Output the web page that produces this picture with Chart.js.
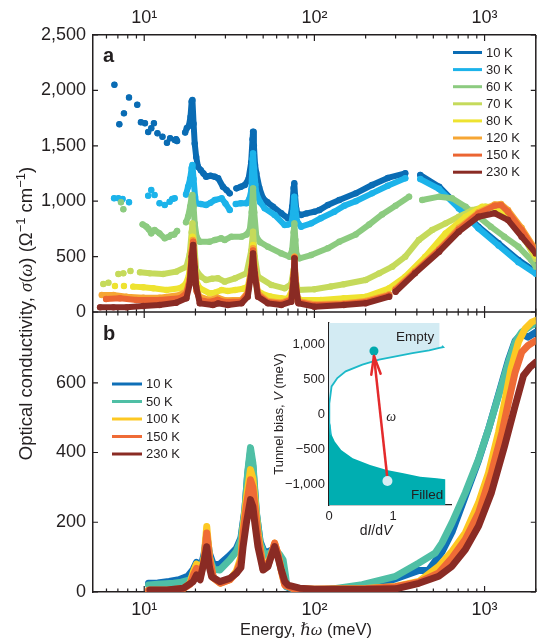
<!DOCTYPE html>
<html>
<head>
<meta charset="utf-8">
<script src="https://cdn.jsdelivr.net/npm/chart.js@4.4.0/dist/chart.umd.min.js"></script>
<style>
  body { margin: 0; background: #fff; }
  #wrap { position: relative; width: 539px; height: 638px; }
  #main { position: absolute; left: 0; top: 0; }
  #inset { position: absolute; left: 262px; top: 318px; }
</style>
</head>
<body>
<div id="wrap">
  <canvas id="main" width="539" height="638"></canvas>
  <canvas id="inset" width="200" height="228"></canvas>
</div>
<script>
// ---- data ----
const xTickVals = [10, 100, 1000];
const xTickText = ['10¹', '10²', '10³'];
const yaTicks = [0, 500, 1000, 1500, 2000, 2500];
const ybTicks = [0, 200, 400, 600];

// panel a (null = gap in the measured data)
const labelsA = ['10 K', '30 K', '60 K', '70 K', '80 K', '120 K', '150 K', '230 K'];
const eA10 = [6.68,null,7.14,null,7.6,null,8.14,null,9.1,null,9.56,null,10.1,null,10.55,null,11.0,null,11.4,null,11.96,null,12.8,null,13.6,null,14.2,null,15.1,15.4,15.6,null,
  17.4,17.8,18.3,18.7,19.0,19.2,19.5,19.8,20.2,20.7,21.5,22.3,23.1,24.5,26,27.2,29.0,30.5,31.8,null,
  34.8,37,39,41,42.5,43.3,43.6,44.1,44.8,45.6,47.5,49.9,53,57.1,63.9,69.9,72.5,74,75.5,76.2,77,78.2,79.2,83.6,90,100,107,120,140,175,218,270,342,null,
  419,541,706,920,1208,1581,2000];
const sA10 = [2051,null,1694,null,1793,null,1937,null,1871,null,1712,null,1703,null,1624,null,1658,null,1703,null,1613,null,1582,null,1528,null,1568,null,1552,1560,1543,null,
  1620,1660,1680,1760,1900,1913,1700,1520,1400,1311,1280,1250,1221,1230,1221,1207,1131,1100,1071,null,
  1116,1130,1146,1200,1350,1560,1627,1500,1330,1252,1120,1026,990,951,891,846,870,950,1120,1162,1050,930,891,876,890,905,920,966,1011,1071,1146,1210,1252,null,
  1237,1131,950,770,620,469,364];
const eA30 = [6.65,null,7.05,null,7.46,null,8.14,null,10.55,null,11.0,null,11.5,null,12.3,null,13.2,null,14.1,null,14.6,15.1,null,
  17.6,18.1,18.6,19.0,19.2,19.5,19.9,20.2,21.5,23.1,24.5,26,28.5,30,31.8,null,
  34.5,37,39.9,41.5,42.6,43.3,43.6,44.2,45.0,45.6,48,51,58.4,66.9,70,73.2,75,76.2,77.3,79,83.6,95.8,109,131,150,175,218,270,342,null,
  419,541,706,920,1208,1581,2000];
const sA30 = [1026,null,1026,null,1020,null,990,null,1050,null,1101,null,1056,null,981,null,966,null,996,null,1020,1026,null,
  1060,1131,1200,1300,1327,1200,1040,981,975,966,985,1011,1026,980,921,null,
  975,981,981,1020,1101,1380,1432,1300,1150,1071,990,936,876,785,790,800,900,1041,930,820,770,800,846,905,960,1000,1071,1140,1207,null,
  1200,1110,935,755,600,450,345];
const eA60 = [7.3,null,7.54,null,9.78,10.3,10.6,11.0,11.5,12.3,13.2,14.0,14.4,15.0,15.6,null,
  17.6,18.1,18.6,19.0,19.2,19.5,19.8,20.3,21.2,24.2,26,28.3,29.7,32.5,37.3,40,41.7,42.8,43.6,44.3,45.6,48,53.3,63.9,71.5,74,75.5,76.3,77.3,78.5,81.8,95.8,120,140,175,210,250,300,360,null,
  430,541,644,774,920,1088,1305,1581,1883,2000];
const sA60 = [990,null,927,null,791,770,750,710,740,710,665,680,695,700,731,null,
  810,860,950,1040,1056,950,800,680,634,634,650,665,650,680,680,700,740,900,1116,900,680,630,589,529,499,560,720,800,650,520,484,514,575,634,700,790,880,960,1040,null,
  1011,1041,1026,950,860,770,680,589,469,409];
const eA70 = [5.75,null,6.16,null,7.05,null,7.54,null,8.3,null,9.44,10.8,12.9,15.4,
  17.7,18.5,19.0,19.2,19.6,20.2,21.5,23.1,25,27.1,29.7,34.2,39.9,42.5,43.6,44.6,46.6,55.9,66.9,73,75.5,76.4,77.5,79.8,100,125,149,200,240,287,342,411,492,590,706,846,1012,1208,1444,1731,2000];
const sA70 = [253,null,265,null,343,null,349,null,370,null,358,349,343,364,
  409,520,720,800,650,379,320,289,300,304,274,304,349,550,725,500,319,244,214,250,380,424,300,199,205,230,250,289,349,409,499,650,740,800,860,920,950,920,800,650,480];
const eA80 = [6.73,null,7.6,null,8.62,9.87,11.3,13.5,16.2,17.5,18.3,18.8,19.2,19.6,20.2,21.2,24.2,26,28.5,31,34.2,38,40.6,42.5,43.6,44.6,46,48.7,55,63.9,70,74,76.3,77.5,79,83.6,109,149,200,275,342,448,590,774,967,1147,1444,1731,2000];
const sA80 = [235,null,235,null,229,223,214,199,214,250,330,500,680,500,280,214,169,175,199,190,199,210,229,380,605,380,200,169,140,124,120,200,379,250,130,108,108,124,138,214,319,499,710,860,950,950,815,650,510];
const eA120 = [5.63,6.59,7.88,9.87,12.3,16.2,17.7,18.5,19.0,19.3,19.7,20.3,21.2,24,27,30,37.3,40.6,42.8,43.6,44.5,46.6,53,64,73,75.5,76.4,77.5,80,100,149,200,275,null,300,390,541,706,920,1147,1250,1374,1650,2000];
const sA120 = [153,153,138,129,129,153,190,300,550,650,450,200,138,110,130,105,110,180,420,575,400,170,100,85,120,350,500,300,100,70,80,100,160,null,210,370,570,760,900,970,975,920,760,560];
const eA150 = [5.97,7.2,9.0,12.3,16.2,17.7,18.5,19.0,19.4,19.8,20.3,21.2,24,27,30,37.3,40.6,42.8,43.6,44.5,46.6,53,64,73,75.5,76.4,77.5,80,100,149,200,275,null,300,390,541,706,920,1147,1250,1374,1650,2000];
const sA150 = [117,124,108,108,124,170,290,530,634,420,190,110,90,110,90,95,165,400,555,380,155,90,75,110,330,490,280,90,60,70,90,150,null,200,360,560,745,890,960,965,905,740,545];
const eA230 = [5.5,6.59,7.88,9.87,12.3,15.4,17.7,18.5,19.0,19.4,19.8,20.2,21.2,25.3,27.2,31,37.3,40.6,42.8,43.6,44.5,46.6,53.3,63.9,73.2,75.5,76.4,77.5,80.6,100,149,200,275,null,300,390,541,706,920,1147,1374,1650,2000];
const sA230 = [42,42,42,54,63,84,124,250,500,605,400,229,78,63,78,63,78,138,380,529,350,138,78,63,93,300,484,250,78,48,63,78,138,null,183,349,544,725,860,891,830,680,529];

// panel b
const labelsB = ['10 K', '50 K', '100 K', '150 K', '230 K'];
const eB10 = [10.6,12,14,16,18,19.4,20.3,21.3,22.5,23.3,24.2,25.5,27.8,31.8,34.8,37,39,40.5,42.1,43.5,45.6,48,51,53.3,56,58.4,61,64,66,68.4,75,100,150,200,300,411,468,562,644,771,922,1055,1208,1381,1512,1653,1800,2000];
const sB10 = [25,26,30,35,45,65,85,60,110,165,110,78,80,105,125,155,235,335,400,360,225,145,112,115,120,128,110,92,60,15,8,6,10,15,38,62,62,115,172,275,378,467,566,665,720,740,731,745];
const eB50 = [10.6,12,14.9,16.5,18.6,19.5,20.3,21.3,22.5,23.3,24.2,25.5,27.8,31.8,34.8,37,39,40.5,42.1,43.5,45.6,48,51,53.3,56,58.4,62,65.5,67.5,69,80,122,191,300,411,513,562,644,771,922,1055,1208,1381,1512,1653,1892,2000];
const sB50 = [20,22,25,28,35,55,80,55,100,155,100,65,63,92,116,150,230,340,414,370,230,140,105,110,115,120,110,92,50,15,8,7,21,45,83,112,141,199,285,381,467,563,659,717,745,765,769];
const eB100 = [10.6,14,17,18.6,19.5,20.3,21.3,22.5,23.3,24.2,25.5,28,31.8,34.8,37,38.1,39.9,42.1,43.5,44.6,46.6,50,53.3,56,58.4,61,64,67,75,100,200,300,411,538,644,771,922,1055,1208,1312,1430,1581,1731,1892,2000];
const sB100 = [5,5,10,25,60,80,45,100,188,100,40,25,35,60,100,180,270,351,325,270,170,70,80,110,140,110,60,20,10,8,10,16,30,74,117,170,256,342,458,544,640,717,755,774,779];
const eB150 = [10.6,14,17,18.6,19.5,20.3,21.3,22.5,23.3,24.2,25.5,28,31.8,34.8,37,38.1,39.9,42.1,43.5,44.6,46.6,50,53.3,56,58.4,61,64,67,75,100,200,300,411,538,644,771,922,1097,1267,1381,1512,1653,1800,2000];
const sB150 = [5,6,10,22,50,68,42,90,169,95,40,25,35,55,90,165,250,322,300,250,160,65,75,110,140,110,60,20,10,8,9,15,28,55,98,151,227,342,458,544,630,688,707,721];
const eB230 = [10.8,13.6,17,19.4,20.3,21.3,22.3,23.3,24.2,24.9,27.8,31.8,34.8,37,38.1,39.9,42.1,43.5,44.6,46.6,49.9,53.3,56,58.4,61,63.9,67,69.9,81.8,100,200,300,411,538,644,771,922,1097,1312,1512,1693,1852,2000];
const sB230 = [6,6,11,30,49,35,80,130,70,44,30,39,54,70,130,200,265,245,200,130,63,73,105,130,100,63,30,20,11,8,8,9,25,45,74,122,189,285,419,534,621,645,659];

// inset (dI/dV against tunnel bias)
const insTicksX = [0, 1];
const insTicksY = [-1000, -500, 0, 500, 1000];
const insEmptyX = [0.0, 0.02, 0.04, 0.13, 0.26, 0.52, 0.78, 1.04, 1.30, 1.56, 1.72, 1.72];
const insEmptyV = [150, 251, 394, 514, 609, 704, 776, 823, 871, 909, 943, 1300];
const insFillX = [0.02, 0.03, 0.09, 0.19, 0.37, 0.64, 0.90, 1.16, 1.42, 1.68, 1.81, 1.81];
const insFillV = [-150, -274, -394, -513, -632, -727, -799, -847, -895, -918, -932, -1300];
const insCurveX = [0.03, 0.01, 0.0, 0.01, 0.02, 0.04, 0.13, 0.26, 0.52, 0.78, 1.04, 1.30, 1.56, 1.72, 1.78, 1.76];
const insCurveV = [-300, -150, 0, 150, 251, 394, 514, 609, 704, 776, 823, 871, 909, 943, 955, 975];
const insArrowX = [0.91, 0.70];
const insArrowV = [-925, 830];
const insEmptyDotX = [0.70], insEmptyDotV = [900];
const insFilledDotX = [0.91], insFilledDotV = [-956];

// ---- styles ----
const FONT = "'Liberation Sans', Arial, Helvetica, sans-serif";
const SERIF = "'Liberation Serif', 'DejaVu Serif', serif";
const INK = '#231f20';
const colorsA = ['#0a6cb4', '#1cb3ea', '#8ccb80', '#c5da5b', '#eee330', '#f6a634', '#eb6532', '#8a2b24'];
const colorsB = ['#0f6fb7', '#4fbfa5', '#fdc823', '#ef6b36', '#8a2b24'];

Chart.defaults.font.family = FONT;
Chart.defaults.color = INK;

function pts(E, S) {
  return E.map((e, i) => ({ x: e, y: S[i] }));
}

function fontFor(st, size) {
  if (st === 's') return Math.round(size * 0.68) + 'px ' + FONT;
  if (st === 'i') return 'italic ' + size + 'px ' + SERIF;
  if (st === 'si') return 'italic ' + size + 'px ' + FONT;
  if (st === 'b') return 'bold ' + size + 'px ' + FONT;
  return size + 'px ' + FONT;
}

// draws mixed-style text centred on (x, baseline y)
function drawRich(ctx, parts, x, y, size, angle, align) {
  ctx.save();
  ctx.translate(x, y);
  ctx.rotate(angle || 0);
  ctx.fillStyle = INK;
  ctx.textBaseline = 'alphabetic';
  ctx.textAlign = 'left';
  const widths = parts.map(p => { ctx.font = fontFor(p[1], size); return ctx.measureText(p[0]).width; });
  const total = widths.reduce((a, b) => a + b, 0);
  let cx = align === 'right' ? -total : (align === 'left' ? 0 : -total / 2);
  parts.forEach((p, i) => {
    ctx.font = fontFor(p[1], size);
    ctx.fillText(p[0], cx, p[1] === 's' ? -size * 0.38 : 0);
    cx += widths[i];
  });
  ctx.restore();
}

// ---- main chart ----
const seriesA = [[eA10, sA10], [eA30, sA30], [eA60, sA60], [eA70, sA70], [eA80, sA80], [eA120, sA120], [eA150, sA150], [eA230, sA230]];
const seriesB = [[eB10, sB10], [eB50, sB50], [eB100, sB100], [eB150, sB150], [eB230, sB230]];

const datasets = [];
seriesA.forEach((s, i) => {
  datasets.push({
    label: labelsA[i], data: pts(s[0], s[1]), xAxisID: 'x', yAxisID: 'ya',
    borderColor: colorsA[i], backgroundColor: colorsA[i], borderWidth: 6,
    pointRadius: 3.2, pointBorderWidth: 0, pointHoverRadius: 0,
    borderCapStyle: 'round', borderJoinStyle: 'round', spanGaps: false,
    order: seriesA.length - i
  });
});
seriesB.forEach((s, i) => {
  datasets.push({
    label: labelsB[i], data: pts(s[0], s[1]), xAxisID: 'x', yAxisID: 'yb',
    borderColor: colorsB[i], backgroundColor: colorsB[i], borderWidth: 7,
    pointRadius: 0, pointHoverRadius: 0,
    borderCapStyle: 'round', borderJoinStyle: 'round', spanGaps: false,
    order: seriesB.length - i
  });
});

function logAxis(pos, h, pad) {
  return {
    type: 'logarithmic', position: pos, min: 5, max: 2000,
    afterBuildTicks: s => { s.ticks = xTickVals.map(v => ({ value: v })); },
    afterFit: s => { s.height = h; },
    grid: { display: false, drawTicks: false },
    border: { display: true, color: INK, width: 1.5 },
    ticks: {
      autoSkip: false, maxRotation: 0, padding: pad, font: { size: 18 }, color: INK,
      callback: v => xTickText[xTickVals.indexOf(v)]
    }
  };
}

function linAxis(max, ticks, weight) {
  return {
    type: 'linear', position: 'left', stack: 'panels', stackWeight: weight, min: 0, max: max,
    afterBuildTicks: s => { s.ticks = ticks.map(v => ({ value: v })); },
    afterFit: s => { s.width = 93; },
    grid: { display: false, drawTicks: false },
    border: { display: true, color: INK, width: 1.5 },
    ticks: { padding: 7, font: { size: 18 }, color: INK, callback: v => v.toLocaleString('en-US') }
  };
}

const minorX = [];
[1, 10, 100, 1000].forEach(d => { for (let k = 2; k <= 9; k++) { const v = d * k; if (v > 5 && v <= 2000) minorX.push(v); } });

const framePlugin = {
  id: 'frame',
  beforeDatasetsDraw(chart) {
    const { ctx, chartArea: ca, scales } = chart;
    const x = scales.x, ya = scales.ya, yb = scales.yb;
    const mid = ya.bottom;
    ctx.save();
    ctx.strokeStyle = INK;
    ctx.lineWidth = 1.5;
    ctx.beginPath();
    ctx.moveTo(ca.right, ca.top); ctx.lineTo(ca.right, ca.bottom);
    ctx.moveTo(ca.left, mid); ctx.lineTo(ca.right, mid);
    ctx.stroke();
    ctx.lineWidth = 1.2;
    ctx.beginPath();
    const rows = [[ca.top, 1], [mid, -1], [mid, 1], [ca.bottom, -1]];
    rows.forEach(r => {
      xTickVals.forEach(v => { const px = x.getPixelForValue(v); ctx.moveTo(px, r[0]); ctx.lineTo(px, r[0] + r[1] * 6); });
      minorX.forEach(v => { const px = x.getPixelForValue(v); ctx.moveTo(px, r[0]); ctx.lineTo(px, r[0] + r[1] * 3.5); });
    });
    [[ya, yaTicks], [yb, ybTicks]].forEach(p => {
      p[1].forEach(v => {
        const py = p[0].getPixelForValue(v);
        ctx.moveTo(ca.left, py); ctx.lineTo(ca.left + 5, py);
        ctx.moveTo(ca.right, py); ctx.lineTo(ca.right - 5, py);
      });
    });
    ctx.stroke();
    ctx.restore();
  },
  afterDraw(chart) {
    const { ctx, chartArea: ca, scales } = chart;
    const ya = scales.ya, yb = scales.yb;
    ctx.save();
    // panel letters
    ctx.fillStyle = INK;
    ctx.font = fontFor('b', 20);
    ctx.textAlign = 'left';
    ctx.textBaseline = 'alphabetic';
    ctx.fillText('a', ca.left + 10, ya.top + 27);
    ctx.fillText('b', ca.left + 10, yb.top + 28);
    // legends
    const drawLegend = (labels, colors, x0, x1, tx, y0, dy) => {
      labels.forEach((l, i) => {
        const y = y0 + i * dy;
        ctx.strokeStyle = colors[i];
        ctx.lineWidth = 3;
        ctx.beginPath(); ctx.moveTo(x0, y); ctx.lineTo(x1, y); ctx.stroke();
        ctx.fillStyle = INK;
        ctx.font = '13px ' + FONT;
        ctx.textBaseline = 'middle';
        ctx.fillText(l, tx, y + 0.5);
      });
    };
    drawLegend(labelsA, colorsA, 453, 482, 486, 52.5, 17.1);
    drawLegend(labelsB, colorsB, 112, 142, 146, 384, 17.5);
    ctx.restore();
    // axis titles
    drawRich(ctx, [['Optical conductivity, ', 'n'], ['σ', 'i'], ['(', 'n'], ['ω', 'i'], [') (Ω', 'n'], ['−1', 's'], [' cm', 'n'], ['−1', 's'], [')', 'n']],
      32, (ca.top + ca.bottom) / 2, 18.5, -Math.PI / 2);
    drawRich(ctx, [['Energy, ', 'n'], ['ℏω', 'i'], [' (meV)', 'n']], 306, 635, 16.5, 0);
  }
};

new Chart(document.getElementById('main'), {
  type: 'line',
  data: { datasets: datasets },
  options: {
    responsive: false, animation: false, devicePixelRatio: 1,
    layout: { padding: { left: 0, right: 1, top: 0, bottom: 0 } },
    plugins: { legend: { display: false }, tooltip: { enabled: false } },
    events: [],
    scales: {
      x: logAxis('bottom', 46, 7),
      x2: logAxis('top', 35, 6),
      yb: linAxis(803, ybTicks, 280),
      ya: linAxis(2500, yaTicks, 277)
    }
  },
  plugins: [framePlugin]
});

// ---- inset ----
const insetPlugin = {
  id: 'insetText',
  afterDatasetsDraw(chart) {
    const { ctx, scales } = chart;
    const x = scales.x, y = scales.y;
    // arrow head at the end of the arrow line
    const tx = x.getPixelForValue(insArrowX[1]), ty = y.getPixelForValue(insArrowV[1]);
    const fx = x.getPixelForValue(insArrowX[0]), fy = y.getPixelForValue(insArrowV[0]);
    const ang = Math.atan2(fy - ty, fx - tx);
    ctx.save();
    ctx.strokeStyle = '#e42a2c';
    ctx.lineWidth = 2.5;
    ctx.lineCap = 'round';
    ctx.beginPath();
    [-0.25, 0.25].forEach(d => {
      ctx.moveTo(tx, ty);
      ctx.lineTo(tx + 19 * Math.cos(ang + d), ty + 19 * Math.sin(ang + d));
    });
    ctx.stroke();
    ctx.restore();
  },
  afterDraw(chart) {
    const { ctx, scales, chartArea: ca } = chart;
    const x = scales.x, y = scales.y;
    ctx.save();
    ctx.fillStyle = INK;
    ctx.font = '13.5px ' + FONT;
    ctx.textAlign = 'right';
    ctx.textBaseline = 'middle';
    ctx.fillText('Empty', x.getPixelForValue(1.64), y.getPixelForValue(1090));
    ctx.fillText('Filled', x.getPixelForValue(1.78), y.getPixelForValue(-1157));
    ctx.font = 'italic 14px ' + SERIF;
    ctx.textAlign = 'center';
    ctx.fillText('ω', x.getPixelForValue(0.97), y.getPixelForValue(-45));
    ctx.restore();
    drawRich(ctx, [['Tunnel bias, ', 'n'], ['V', 'si'], [' (meV)', 'n']], 21, (ca.top + ca.bottom) / 2, 13, -Math.PI / 2);
    drawRich(ctx, [['d', 'n'], ['I', 'si'], ['/d', 'n'], ['V', 'si']], 114, 217, 14, 0);
  }
};

new Chart(document.getElementById('inset'), {
  type: 'line',
  data: {
    datasets: [
      { data: pts(insEmptyDotX, insEmptyDotV), showLine: false, pointRadius: 4.5, pointBorderWidth: 0, backgroundColor: '#00a9ad', order: 0 },
      { data: pts(insFilledDotX, insFilledDotV), showLine: false, pointRadius: 5, pointBorderWidth: 0, backgroundColor: '#d7edf4', order: 1 },
      { data: pts(insArrowX, insArrowV), borderColor: '#e42a2c', borderWidth: 2.5, pointRadius: 0, fill: false, order: 2 },
      { data: pts(insCurveX, insCurveV), borderColor: '#1cb9c8', borderWidth: 1.8, pointRadius: 0, fill: false, order: 3 },
      { data: pts(insFillX, insFillV), borderWidth: 0, borderColor: 'rgba(0,0,0,0)', backgroundColor: '#00aeb1', pointRadius: 0, fill: 'origin', order: 4 },
      { data: pts(insEmptyX, insEmptyV), borderWidth: 0, borderColor: 'rgba(0,0,0,0)', backgroundColor: '#d3ebf3', pointRadius: 0, fill: 'origin', order: 5 }
    ]
  },
  options: {
    responsive: false, animation: false, devicePixelRatio: 1, indexAxis: 'y',
    layout: { padding: { left: 0, right: 11, top: 5, bottom: 0 } },
    plugins: { legend: { display: false }, tooltip: { enabled: false } },
    events: [],
    scales: {
      x: {
        type: 'linear', min: 0, max: 1.9,
        afterBuildTicks: s => { s.ticks = insTicksX.map(v => ({ value: v })); },
        afterFit: s => { s.height = 41; s.paddingLeft = 0; s.paddingRight = 0; },
        grid: { display: false, drawTicks: false },
        border: { display: true, color: INK, width: 1.3 },
        ticks: { padding: 4, font: { size: 13 }, color: INK }
      },
      y: {
        type: 'linear', min: -1300, max: 1300,
        afterBuildTicks: s => { s.ticks = insTicksY.map(v => ({ value: v })); },
        afterFit: s => { s.width = 67; s.paddingTop = 0; s.paddingBottom = 0; },
        grid: { display: false, drawTicks: false },
        border: { display: true, color: INK, width: 1.3 },
        ticks: { padding: 4, font: { size: 13 }, color: INK, callback: v => (v < 0 ? '−' : '') + Math.abs(v).toLocaleString('en-US') }
      }
    }
  },
  plugins: [insetPlugin]
});
</script>
</body>
</html>
